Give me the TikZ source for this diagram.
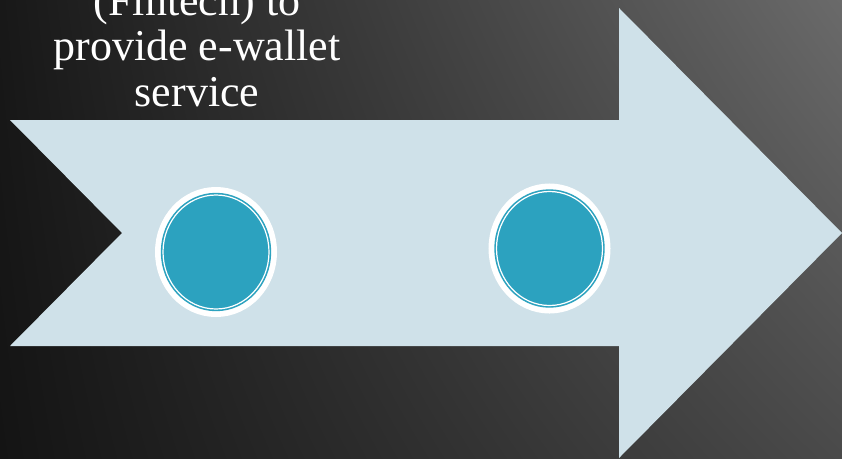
\documentclass[tikz,border=0pt]{standalone}
\usepackage{fontspec}
\setmainfont{Liberation Serif}
\usetikzlibrary{shapes.geometric, shadings}

\definecolor{shaftblue}{HTML}{CFE1E9}
\definecolor{discteal}{HTML}{2CA2BF}
\definecolor{bgdark}{HTML}{181818}
\definecolor{bgdarklow}{HTML}{141414}
\definecolor{bglight}{HTML}{6A6A6A}
\definecolor{bglightlow}{HTML}{4A4A4A}

\begin{document}
\begin{tikzpicture}[x=1pt, y=-1pt,
    disc/.style={ellipse, minimum width=106pt, minimum height=114pt, inner sep=0pt,
      preaction={draw=white, line width=16pt}, fill=discteal,
      draw=discteal, line width=1.6pt, double=white, double distance=1.2pt},
    caption/.style={text=white, align=center, inner sep=0pt,
      font=\fontsize{44}{45.5}\selectfont}
  ]
  \useasboundingbox (0,0) rectangle (842,458);
  \clip (0,0) rectangle (842,458);
  \shade[upper left=bgdark, lower left=bgdarklow, upper right=bglight, lower right=bglightlow]
    (0,0) rectangle (842,458);

  % the big arrow
  \fill[shaftblue] (10,120) -- (619,120) -- (619,8) -- (842,233) -- (619,458)
    -- (619,346) -- (10,346) -- (122,233) -- cycle;

  \node[caption, anchor=base] (title) at (197,106) {(Fintech) to\\provide e-wallet\\service};

  \node[disc] (first) at (216,252) {};
  \node[disc] (second) at (549.5,248.5) {};
\end{tikzpicture}
\end{document}
